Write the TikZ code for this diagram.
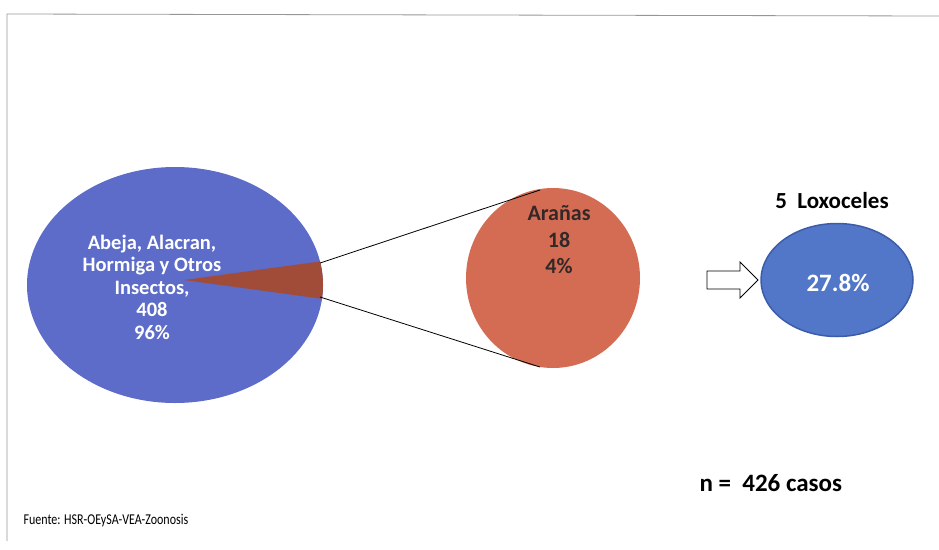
\documentclass[tikz,border=0pt]{standalone}
\usepackage{fontspec}
\setmainfont{Carlito}
\newfontfamily\narrowfont[FakeStretch=0.8]{Carlito}
\usetikzlibrary{shapes.geometric}
\definecolor{bigblue}{RGB}{92,108,200}
\definecolor{orangered}{RGB}{212,108,84}
\definecolor{wedge}{RGB}{160,76,56}
\definecolor{smallblue}{RGB}{82,118,200}
\definecolor{smalledge}{RGB}{60,92,170}
\definecolor{framegray}{RGB}{150,150,150}
\definecolor{darktext}{RGB}{50,40,40}
\tikzset{
  pielabel/.style={text=white,font=\bfseries\fontsize{20.5}{22.5}\selectfont,align=center},
  connector/.style={draw=black,line width=0.8pt},
}
\begin{document}
\begin{tikzpicture}[x=1pt,y=-1pt]
\useasboundingbox (0,0) rectangle (939,549);
% frame
\draw[framegray,line width=0.8pt] (939,16) -- (7,14) -- (7,541);
% big pie
\node[ellipse,fill=bigblue,minimum width=296,minimum height=236,inner sep=0] (big) at (175,285) {};
\begin{scope}
  \clip (175,285) ellipse [x radius=148, y radius=118];
  \fill[wedge] (184,280) -- (360,256) -- (360,304) -- cycle;
\end{scope}
\coordinate (w1) at (320,263);
\coordinate (w2) at (320,297);
\node[pielabel] (bigtext) at (152,287) {Abeja, Alacran,\\Hormiga y Otros\\Insectos,\\408\\96\%};
% orange circle
\node[ellipse,fill=orangered,minimum width=174,minimum height=180,inner sep=0] (ara) at (553,278) {};
\node[text=darktext,font=\bfseries\fontsize{22}{26.5}\selectfont,align=center] (aratext) at (559,240) {Arañas\\18\\4\%};
\coordinate (a1) at (540,190);
\coordinate (a2) at (540,367);
\draw[connector] (w1) -- (a1);
\draw[connector] (w2) -- (a2);
% hollow block arrow
\draw[black,fill=white,line width=0.8pt,line join=miter]
  (707,271) -- (740,271) -- (740,262) -- (758,280) -- (740,298) -- (740,289) -- (707,289) -- cycle;
% small circle
\node[ellipse,fill=smallblue,draw=smalledge,line width=1.5pt,minimum width=152,minimum height=113,inner sep=0] (lox) at (837,280) {};
\node[text=white,font=\bfseries\fontsize{25}{28}\selectfont] (loxtext) at (838,283) {27.8\%};
\node[text=black,font=\bfseries\fontsize{23}{26}\selectfont] (loxtitle) at (832,201) {5\ \ Loxoceles};
% notes
\node[text=black,font=\bfseries\fontsize{25}{28}\selectfont,anchor=west] (n) at (696,483) {n =\ \ 426 casos};
\node[text=black,font=\narrowfont\fontsize{15}{17}\selectfont,anchor=west] (src) at (20,521) {Fuente: HSR-OEySA-VEA-Zoonosis};
\end{tikzpicture}
\end{document}
